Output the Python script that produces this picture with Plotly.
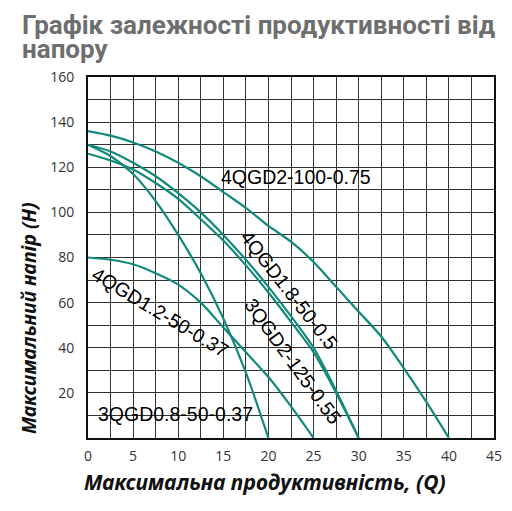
import plotly.graph_objects as go

# flow Q sampled every 2.5
q_40 = [0, 2.5, 5, 7.5, 10, 12.5, 15, 17.5, 20, 22.5, 25, 27.5, 30, 32.5, 35, 37.5, 40]
q_30 = [0, 2.5, 5, 7.5, 10, 12.5, 15, 17.5, 20, 22.5, 25, 27.5, 30]
q_25 = [0, 2.5, 5, 7.5, 10, 12.5, 15, 17.5, 20, 22.5, 25]
q_20 = [0, 2.5, 5, 7.5, 10, 12.5, 15, 17.5, 20]

# head H
h_4qgd2_100 = [136, 134, 131, 127, 122, 116, 109, 102, 94, 87, 78, 67, 56, 45, 31, 16, 0]
h_4qgd18_50 = [130, 127, 122, 116, 108.5, 100, 90, 79, 67, 54, 40, 21, 0]
h_3qgd2_125 = [126, 123, 119, 113, 106, 97, 87.5, 76.5, 64.5, 51.5, 38, 20, 0]
h_4qgd12_50 = [80, 79, 77, 73, 68, 60, 49, 38, 27, 14, 0]
h_3qgd08_50 = [130, 125, 117, 105, 90, 73, 53, 29, 0]

x_ticks = [0, 5, 10, 15, 20, 25, 30, 35, 40, 45]
y_ticks = [20, 40, 60, 80, 100, 120, 140, 160]

teal = "#12897a"
grid = "#333333"

fig = go.Figure()
for q, h in [(q_40, h_4qgd2_100), (q_30, h_4qgd18_50), (q_30, h_3qgd2_125),
             (q_25, h_4qgd12_50), (q_20, h_3qgd08_50)]:
    fig.add_trace(go.Scatter(x=q, y=h, mode="lines",
                             line=dict(color=teal, width=2.2, shape="spline", smoothing=0.8),
                             showlegend=False, hoverinfo="skip"))

lab_font = dict(family="Liberation Sans, Arial", size=19.5, color="#000")
labels = [
    ("4QGD2-100-0.75", 23.0, 115.5, 0),
    ("4QGD1.8-50-0.5", 22.3, 65.5, 52),
    ("3QGD2-125-0.55", 22.7, 34.0, 54),
    ("4QGD1.2-50-0.37", 8.0, 56.0, 31),
    ("3QGD0.8-50-0.37", 9.7, 10.6, 0),
]
for text, x, y, ang in labels:
    fig.add_annotation(x=x, y=y, text=text, showarrow=False, textangle=ang,
                       font=lab_font, xanchor="center", yanchor="middle")

title_font = dict(family="Roboto", size=26, color="#6e6e6e", weight="bold")
fig.add_annotation(xref="paper", yref="paper", x=-0.1675, y=1.145, xanchor="left",
                   yanchor="middle", showarrow=False,
                   text="Графік залежності продуктивності від", font=title_font)
fig.add_annotation(xref="paper", yref="paper", x=-0.1675, y=1.077, xanchor="left",
                   yanchor="middle", showarrow=False, text="напору", font=title_font)

axis_font = dict(family="Noto Sans", size=19.5, color="#111", weight="bold", style="italic")
fig.add_annotation(xref="paper", yref="paper", x=0.436, y=-0.122, showarrow=False,
                   xanchor="center", yanchor="middle",
                   text="Максимальна продуктивність, (Q)", font=dict(axis_font, size=21))
fig.add_annotation(xref="paper", yref="paper", x=-0.148, y=0.332, showarrow=False,
                   xanchor="center", yanchor="middle",
                   textangle=-90, text="Максимальний напір (Н)", font=axis_font)

tick_font = dict(family="Open Sans", size=14, color="#333")
fig.update_xaxes(range=[0, 45], tickvals=x_ticks, showgrid=True, gridcolor=grid,
                 gridwidth=1.3, minor=dict(dtick=2.5, showgrid=True, gridcolor=grid, gridwidth=1.3),
                 showline=True, linecolor="#111", linewidth=2, mirror=True,
                 zeroline=False, tickfont=tick_font, ticklabelstandoff=4)
fig.update_yaxes(range=[0, 160], tickvals=y_ticks, showgrid=True, gridcolor=grid,
                 gridwidth=1.3, minor=dict(dtick=10, showgrid=True, gridcolor=grid, gridwidth=1.3),
                 showline=True, linecolor="#111", linewidth=2, mirror=True,
                 zeroline=False, tickfont=tick_font, ticklabelstandoff=9)

# page body adds 8px offset, so margins are shifted to compensate
fig.update_layout(width=512, height=511, margin=dict(l=80, r=26, t=69, b=81),
                  paper_bgcolor="white", plot_bgcolor="white")

fig.write_html("out.html")
